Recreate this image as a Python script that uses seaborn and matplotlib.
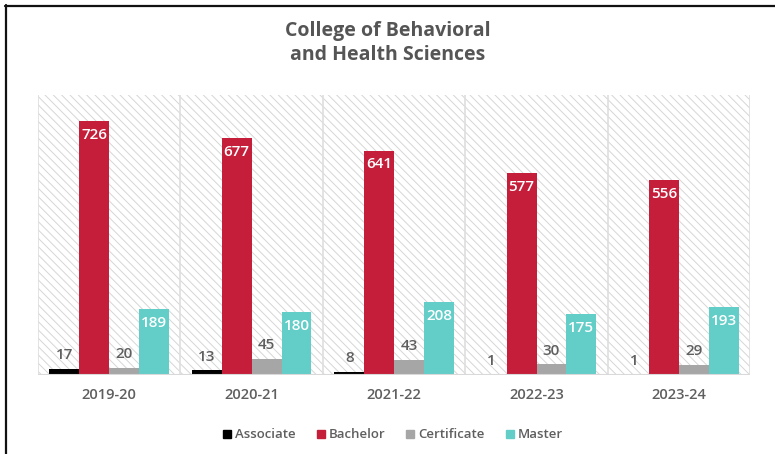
import pandas as pd
import matplotlib.pyplot as plt
import seaborn as sns
from matplotlib.patches import Rectangle
from matplotlib.lines import Line2D

# --- Data ---
YEARS = ['2019-20', '2020-21', '2021-22', '2022-23', '2023-24']
DEGREES = ['Associate', 'Bachelor', 'Certificate', 'Master']
ASSOCIATE = [17, 13, 8, 1, 1]
BACHELOR = [726, 677, 641, 577, 556]
CERTIFICATE = [20, 45, 43, 30, 29]
MASTER = [189, 180, 208, 175, 193]

COLORS = {'Associate': '#000000', 'Bachelor': '#c41e3a',
          'Certificate': '#a6a6a6', 'Master': '#63cdc8'}
TEXT_GRAY = '#5f5f5f'

# long format for seaborn
rows = []
for deg, vals in zip(DEGREES, [ASSOCIATE, BACHELOR, CERTIFICATE, MASTER]):
    for yr, v in zip(YEARS, vals):
        rows.append({'Year': yr, 'Degree': deg, 'Count': v})
df = pd.DataFrame(rows)

sns.set_style('white')
plt.rcParams['font.family'] = ['Open Sans', 'DejaVu Sans']
plt.rcParams['hatch.linewidth'] = 0.7

fig = plt.figure(figsize=(7.75, 4.54), dpi=100)
ax = fig.add_axes([0.049, 0.174, 0.919, 0.617])

# hatched background panels
for i in range(len(YEARS)):
    ax.add_patch(Rectangle((i - 0.5, 0), 1, 800, facecolor='white',
                           edgecolor='#d6d6d6', hatch='\\\\\\\\', linewidth=0,
                           zorder=0))
for i in range(len(YEARS) + 1):
    ax.axvline(i - 0.5, color='#dedede', lw=1.2, zorder=1)

sns.barplot(data=df, x='Year', y='Count', hue='Degree', hue_order=DEGREES,
            order=YEARS, palette=COLORS, saturation=1, width=0.84,
            linewidth=0, ax=ax, zorder=2, legend=False)

# value labels
for deg, cont in zip(DEGREES, ax.containers):
    for bar in cont:
        h = bar.get_height()
        x = bar.get_x() + bar.get_width() / 2
        if deg in ('Bachelor', 'Master'):
            ax.annotate(f'{int(h)}', (x, h), xytext=(0, -10), textcoords='offset points',
                        ha='center', va='center', color='white', fontsize=11,
                        fontweight='semibold', zorder=3)
        else:
            ax.annotate(f'{int(h)}', (x, h), xytext=(0, 10), textcoords='offset points',
                        ha='center', va='center', color=TEXT_GRAY, fontsize=11,
                        fontweight='semibold', zorder=3)

ax.set_xlim(-0.5, len(YEARS) - 0.5)
ax.set_ylim(0, 800)
ax.set_yticks([])
ax.set_xlabel('')
ax.set_ylabel('')
for s in ax.spines.values():
    s.set_visible(False)
ax.axhline(0, color='#d9d9d9', lw=1.5, zorder=4)
ax.tick_params(axis='x', length=0, pad=9, labelsize=10.5, labelcolor=TEXT_GRAY)
for lbl in ax.get_xticklabels():
    lbl.set_fontweight('semibold')

# legend
handles = [Rectangle((0, 0), 1, 1, color=COLORS[d]) for d in DEGREES]
fig.legend(handles, DEGREES, loc='center', bbox_to_anchor=(0.507, 0.042), ncol=4,
           frameon=False, handlelength=0.6, handleheight=0.6, handletextpad=0.3,
           columnspacing=1.6, labelcolor=TEXT_GRAY,
           prop={'size': 9.5, 'weight': 'semibold'})

# title
fig.text(0.5, 0.905, 'College of Behavioral\nand Health Sciences', ha='center',
         va='center', fontsize=14, fontweight='bold', color='#555555',
         linespacing=1.3)

# frame lines (top and left)
fig.add_artist(Line2D([5 / 775, 1], [1 - 6 / 454, 1 - 6 / 454],
                      transform=fig.transFigure, color='#111111', lw=1.6))
fig.add_artist(Line2D([6 / 775, 6 / 775], [0, 1 - 5 / 454],
                      transform=fig.transFigure, color='#111111', lw=1.6))

fig.savefig('out.png', dpi=100)
